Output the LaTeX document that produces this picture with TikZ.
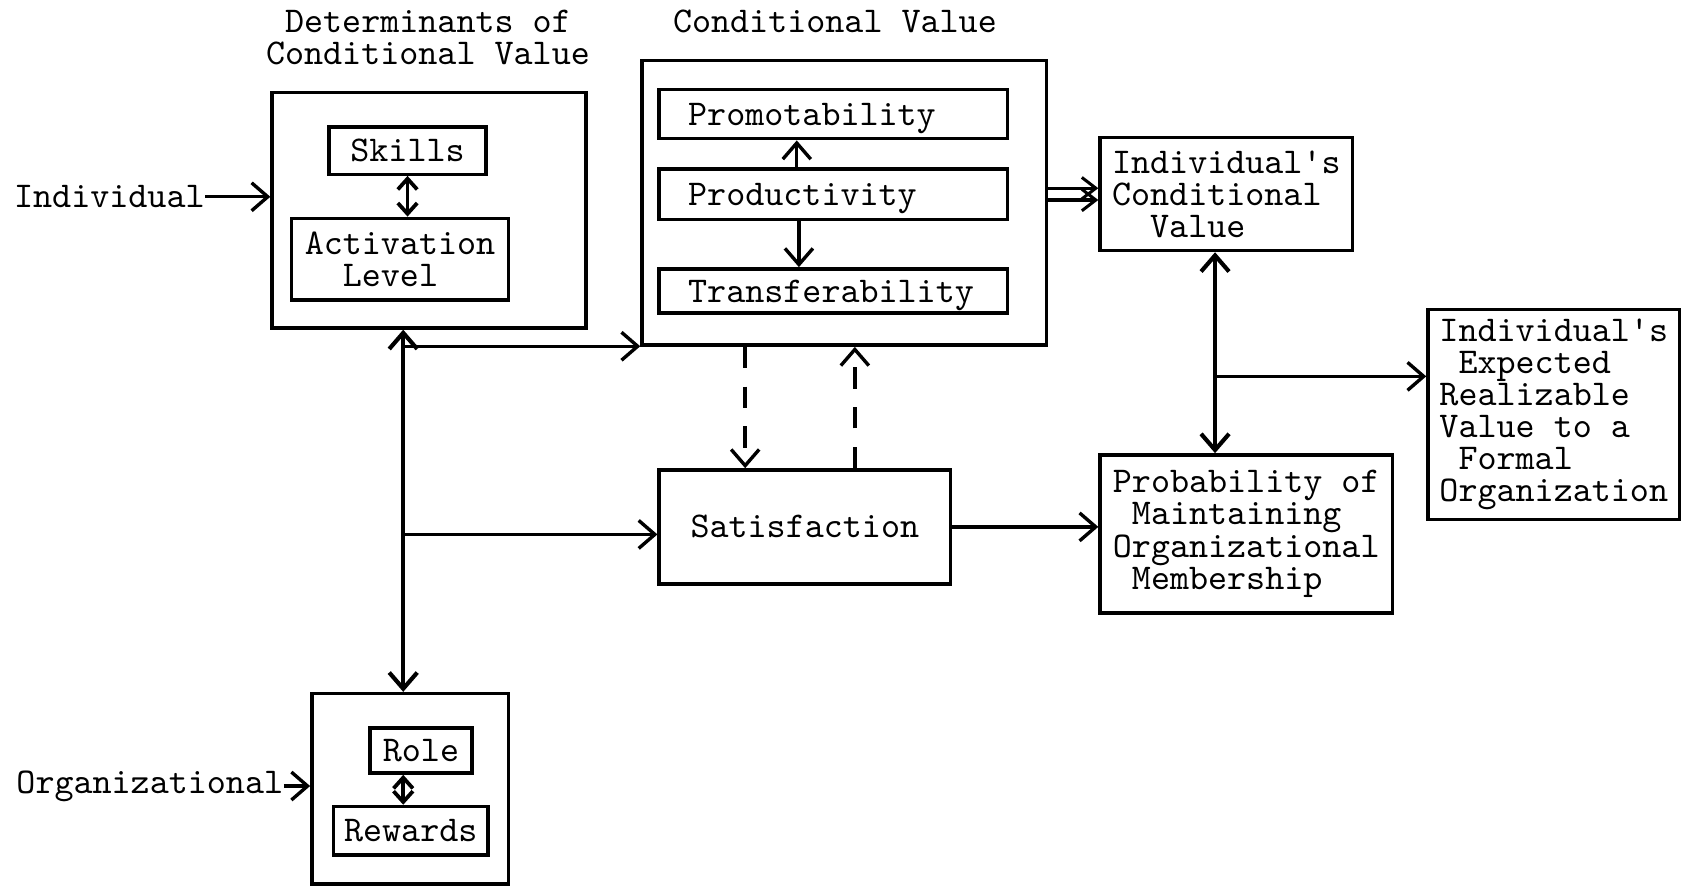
\documentclass[tikz,border=0pt]{standalone}
\usetikzlibrary{arrows.meta}

\begin{document}
\begin{tikzpicture}[
    font=\fontsize{9.6pt}{8.5pt}\selectfont\ttfamily,
    box/.style={rectangle, draw, line width=0.9pt, inner sep=0pt},
    item/.style={box, text width=2.7cm, inner xsep=0.27cm, align=left, text depth=0pt},
    arrow/.style={-{Straight Barb[length=1.5mm, width=2.6mm]}, line width=0.9pt},
    both/.style={{Straight Barb[length=1.5mm, width=2.6mm]}-{Straight Barb[length=1.5mm, width=2.6mm]}, line width=1.1pt},
    small/.style={{Straight Barb[length=1mm, width=1.8mm]}-{Straight Barb[length=1mm, width=1.8mm]}, line width=1pt},
    twin/.style={-{Straight Barb[length=1.3mm, width=2mm]}, line width=0.8pt},
    dashline/.style={dash pattern=on 2mm off 1.7mm}
]
\useasboundingbox (0,0) rectangle (15.68,-8.25);

% Titles
\node[align=center] (dtitle) at (3.98,-0.35) {Determinants of\\Conditional Value};
\node (ctitle) at (7.765,-0.20) {Conditional Value};

% Determinants box
\node[box, minimum width=2.92cm, minimum height=2.19cm] (det) at (3.99,-1.955) {};
\node[box, minimum width=1.46cm, minimum height=0.44cm] (skills) at (3.79,-1.40) {Skills};
\node[box, minimum width=2.02cm, minimum height=0.76cm, align=left] (act) at (3.72,-2.41) {Activation\\\phantom{xx}Level};

% Conditional value box
\node[box, minimum width=3.76cm, minimum height=2.65cm] (cond) at (7.85,-1.885) {};
\node[item, minimum height=0.46cm] (promo) at (7.75,-1.06) {Promotability};
\node[item, minimum height=0.47cm] (prod) at (7.75,-1.805) {Productivity};
\node[item, minimum height=0.41cm] (trans) at (7.75,-2.705) {Transferability};

% Right side boxes
\node[box, minimum width=2.35cm, minimum height=1.05cm, align=left] (icv) at (11.405,-1.805) {Individual\textquotesingle s\\Conditional\\\phantom{xx}Value};
\node[box, minimum width=2.34cm, minimum height=1.95cm, align=left] (exp) at (14.45,-3.855) {Individual\textquotesingle s\\\phantom{x}Expected\\Realizable\\Value to a\\\phantom{x}Formal\\Organization};
\node[box, minimum width=2.72cm, minimum height=1.47cm, align=left] (prob) at (11.59,-4.965) {Probability of\\\phantom{x}Maintaining\\Organizational\\\phantom{x}Membership};
\node[box, minimum width=2.71cm, minimum height=1.06cm] (sat) at (7.485,-4.90) {Satisfaction};

% Organizational box
\node[box, minimum width=1.83cm, minimum height=1.77cm] (org) at (3.815,-7.335) {};
\node[box, minimum width=0.95cm, minimum height=0.42cm] (role) at (3.915,-6.98) {Role};
\node[box, minimum width=1.44cm, minimum height=0.45cm] (rew) at (3.82,-7.725) {Rewards};

% Inputs
\node[anchor=east, inner sep=0pt] (ind) at (1.91,-1.83) {Individual};
\node[anchor=east, inner sep=0pt] (orgin) at (2.64,-7.31) {Organizational};
\draw[arrow] (ind.east) -- (ind.east -| det.west);
\draw[arrow] (orgin.east) -- (orgin.east -| org.west);

% Inner links
\draw[small] (skills.south) -- (skills.south |- act.north);
\draw[arrow] ([xshift=-3.4mm]prod.north) -- ([xshift=-3.4mm]promo.south);
\draw[arrow] ([xshift=-3.2mm]prod.south) -- ([xshift=-3.2mm]trans.north);

% Conditional value to individual's value
\coordinate (cv) at (cond.east |- icv.west);
\draw[twin] ([yshift=0.55mm]cv) -- ([yshift=0.55mm]icv.west);
\draw[twin] ([yshift=-0.55mm]cv) -- ([yshift=-0.55mm]icv.west);

% Right side links
\coordinate (split) at (11.30,-3.50);
\draw[both] (split |- icv.south) -- (split |- prob.north);
\draw[arrow] (split) -- (split -| exp.west);
\draw[arrow] (sat.east) -- (sat.east -| prob.west);

% Dashed links with satisfaction
\coordinate (dn) at (6.93,-3.8);
\coordinate (up) at (7.95,-3.8);
\draw[arrow, dashline] (dn |- cond.south) -- (dn |- sat.north);
\draw[arrow, dashline] (up |- sat.north) -- (up |- cond.south);

% Trunk from determinants to organizational box
\coordinate (trunk) at (3.75,-3.22);
\coordinate (fork) at (3.75,-4.97);
\draw[both] (trunk |- det.south) -- (trunk |- org.north);
\draw[arrow] (trunk) -- (trunk -| cond.west);
\draw[arrow] (fork) -- (fork -| sat.west);
\draw[small] (trunk |- role.south) -- (trunk |- rew.north);

\end{tikzpicture}
\end{document}
